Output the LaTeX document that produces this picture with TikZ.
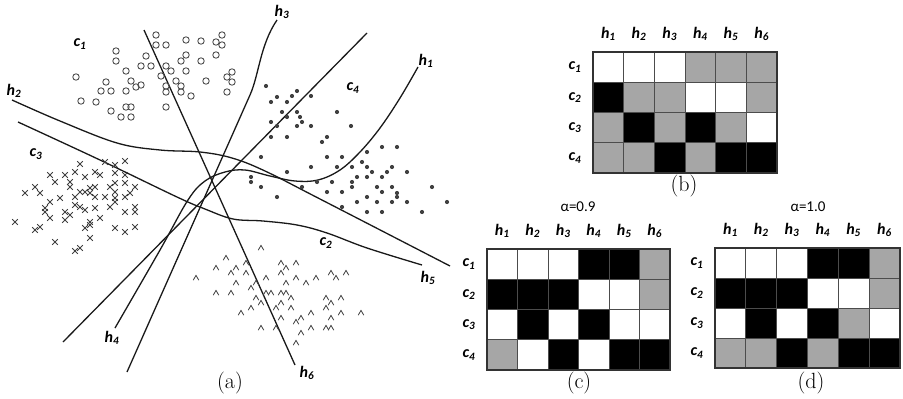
\documentclass[tikz,border=0pt]{standalone}
\usepackage{fontspec}
\newfontfamily\carl{Carlito}
\definecolor{cW}{gray}{1}
\definecolor{cG}{gray}{0.65}
\definecolor{cB}{gray}{0}
\definecolor{ink}{gray}{0.1}
\newcommand\lab[2]{{\carl\bfseries\itshape #1\textsubscript{#2}}}
\newcommand\cellgrid[6]{%
 \foreach \rowl [count=\ri] in {#6} {
  \foreach \cc [count=\ki] in \rowl {
   \fill[fill=c\cc] ({#2+(\ki-1)*#4},{#3+(\ri-1)*#5}) rectangle ++(#4,#5);
  }
 }
 \foreach \ki in {1,...,5} \draw[gline] ({#2+\ki*#4},#3) -- ++(0,{4*#5});
 \foreach \ri in {1,2,3} \draw[gline] (#2,{#3+\ri*#5}) -- ++({6*#4},0);
 \draw[gborder] (#2,#3) rectangle ++({6*#4},{4*#5});
 \foreach \ki in {1,...,6} \node[hlab] (#1h\ki) at ({#2+(\ki-0.5)*#4},{#3-18}) {\lab{h}{\ki}};
 \foreach \ri in {1,...,4} \node[hlab] (#1c\ri) at ({#2-18},{#3+(\ri-0.5)*#5}) {\lab{c}{\ri}};
}
\begin{document}
\begin{tikzpicture}[x=1pt,y=-1pt,
  hyp/.style={line width=1.3pt, draw=ink, line join=round},
  circm/.style={line width=0.9pt, draw=black!70},
  dotm/.style={fill=black!75},
  xmk/.style={line width=0.8pt, draw=black!75},
  caret/.style={line width=0.8pt, draw=black!75},
  gline/.style={line width=1pt, draw=black!70},
  gborder/.style={line width=1.6pt, draw=black!80},
  hlab/.style={inner sep=0pt, font=\fontsize{16}{18}\selectfont},
  plab/.style={inner sep=0pt, font=\fontsize{16}{18}\selectfont},
  captxt/.style={inner sep=0pt, font=\fontsize{22}{24}\selectfont},
  alab/.style={inner sep=0pt, font=\carl\fontsize{15}{17}\selectfont}]
\useasboundingbox (0,0) rectangle (903,399);
% ---------- hyperplanes of (a)
\draw[hyp] plot[smooth, tension=0.6] coordinates {(12,100) (60,121) (117,143) (160,150) (200,152) (232,158) (265,171) (320,199) (450,266)};
\draw[hyp] plot[smooth, tension=0.6] coordinates {(18,122) (100,160) (177,197) (205,209) (233,219) (263,221) (297,225) (327,233) (367,248) (422,265)};
\draw[hyp] (144,30) -- (295,365);
\draw[hyp] (367,33) -- (63,342);
\draw[hyp] (277,20) .. controls (260,45) and (259,75) .. (250,95) -- (127,372);
\draw[hyp] plot[smooth, tension=0.6] coordinates {(418,67) (400,98) (380,128) (360,152) (340,170) (318,180) (295,181) (270,176) (245,170) (225,172) (205,181) (188,200) (160,250) (115,328)};
% ---------- labels of (a)
\node[plab] (lh3) at (282,12) {\lab{h}{3}};
\node[plab] (lh1) at (426,61) {\lab{h}{1}};
\node[plab] (lh2) at (14,91) {\lab{h}{2}};
\node[plab] (lh5) at (428,278) {\lab{h}{5}};
\node[plab] (lh4) at (112,338) {\lab{h}{4}};
\node[plab] (lh6) at (307,373) {\lab{h}{6}};
\node[plab] (lc1) at (80,44) {\lab{c}{1}};
\node[plab] (lc4) at (353,88) {\lab{c}{4}};
\node[plab] (lc3) at (36,154) {\lab{c}{3}};
\node[plab] (lc2) at (326,243) {\lab{c}{2}};
\node[captxt] (capa) at (230,383) {(a)};
% ---------- cluster c1: circles
\foreach \p in {(156,35),(156,45),(166,45),(186,40),(201,41),(216,42),(222,35),(222,45),(116,51),(116,61),(146,56),(186,55),(181,61),(201,61),(216,55),(141,66),(151,66),(166,66),(171,71),(186,71),(126,71),(161,76),(76,77),(131,81),(136,87),(141,85),(176,81),(181,86),(206,81),(227,77),(232,72),(232,82),(227,92),(106,82),(101,91),(111,91),(126,91),(166,86),(166,92),(181,92),(191,96),(81,101),(96,102),(111,111),(126,107),(131,107),(121,117),(131,117),(166,107)}
  {\draw[circm] \p circle[radius=3.2pt];}
% ---------- cluster c4: dots
\foreach \p in {(266,86),(277,97),(292,96),(297,91),(311,96),(271,102),(287,102),(282,112),(297,112),(300,117),(302,122),(337,112),(271,122),(277,126),(287,117),(297,126),(311,126),(351,126),(271,137),(287,137),(327,137),(322,142),(367,152),(382,147),(397,147),(261,157),(327,157),(342,157),(362,162),(311,167),(337,167),(352,167),(367,167),(392,167),(287,172),(372,172),(387,172),(407,172),(251,177),(251,182),(317,182),(332,182),(352,182),(357,177),(367,177),(382,177),(261,187),(302,187),(352,187),(377,187),(392,187),(432,187),(327,192),(342,192),(382,192),(397,193),(277,197),(367,197),(397,197),(357,202),(377,202),(392,202),(407,202),(447,202),(422,212),(367,212),(382,212),(342,207)}
  {\fill[dotm] \p circle[radius=2.1pt];}
% ---------- cluster c3: crosses
\foreach \p in {(105,162),(115,165),(125,161),(80,164),(75,172),(50,175),(55,182),(65,175),(85,177),(95,172),(100,175),(115,173),(125,175),(70,182),(70,187),(80,192),(85,192),(90,188),(95,187),(90,193),(110,187),(115,183),(125,183),(135,187),(25,193),(35,187),(40,193),(60,198),(75,197),(95,197),(105,197),(115,192),(115,198),(125,197),(130,193),(50,202),(45,208),(45,212),(75,205),(80,207),(85,210),(95,208),(110,207),(115,202),(125,212),(135,212),(135,207),(50,218),(65,212),(65,220),(70,215),(90,222),(100,218),(15,222),(35,230),(40,227),(85,228),(90,225),(115,228),(125,232),(135,227),(55,242),(75,251),(80,248),(90,238)}
  {\draw[xmk] \p ++(-2.8,-2.8) -- ++(5.6,5.6) ++(-5.6,0) -- ++(5.6,-5.6);}
% ---------- cluster c2: carets
\foreach \p in {(261,248),(226,258),(216,268),(231,273),(236,268),(246,263),(246,273),(256,283),(236,283),(266,278),(281,263),(286,268),(296,263),(281,273),(286,283),(296,278),(306,283),(316,278),(331,273),(336,278),(346,273),(196,278),(216,293),(231,293),(251,288),(256,298),(266,293),(271,293),(281,293),(286,293),(291,298),(281,303),(276,308),(241,313),(251,308),(261,303),(291,308),(281,318),(296,322),(301,318),(311,313),(326,298),(331,303),(341,298),(326,308),(331,318),(341,313),(361,313),(261,328),(276,328),(301,333),(311,328),(326,328),(331,328),(296,343)}
  {\draw[caret] \p ++(-2.8,2.2) -- ++(2.8,-4.8) -- ++(2.8,4.8);}
% ---------- grid (b)
\cellgrid{b}{593}{52}{30.67}{30.25}{{W,W,W,G,G,G},{B,G,G,W,W,G},{G,B,G,B,G,W},{G,G,B,G,B,B}}
\node[captxt] (capb) at (684,186) {(b)};
% ---------- grid (c)
\node[alab] (alc) at (578,207) {α=0.9};
\cellgrid{c}{487}{249}{30.5}{30.25}{{W,W,W,B,B,G},{B,B,B,W,W,G},{W,B,W,B,W,W},{G,W,B,W,B,B}}
\node[captxt] (capc) at (579,383) {(c)};
% ---------- grid (d)
\node[alab] (ald) at (808,207) {α=1.0};
\cellgrid{d}{715}{248}{30.8}{30}{{W,W,W,B,B,G},{B,B,B,W,W,G},{W,B,W,B,G,W},{G,G,B,G,B,B}}
\node[captxt] (capd) at (811,383) {(d)};
\end{tikzpicture}
\end{document}
